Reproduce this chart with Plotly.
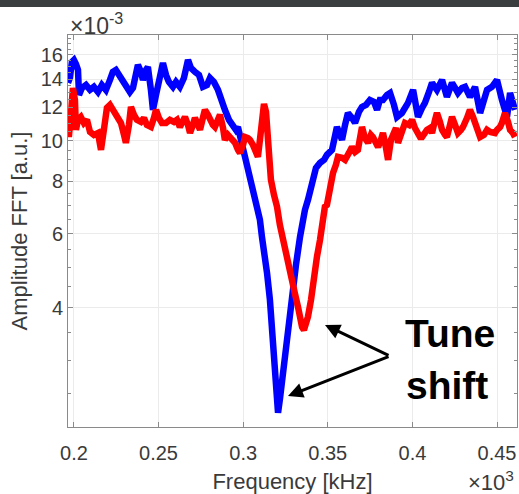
import plotly.graph_objects as go

# Frequency axis values (x 10^3 kHz) and FFT amplitudes (x 10^-3 a.u.)
blue_x = [0.1965, 0.1976, 0.1988, 0.2000, 0.2012, 0.2024, 0.2030, 0.2047, 0.2071, 0.2095,
          0.2118, 0.2142, 0.2165, 0.2189, 0.2213, 0.2230, 0.2248, 0.2266, 0.2284, 0.2307,
          0.2331, 0.2349, 0.2366, 0.2378, 0.2396, 0.2408, 0.2426, 0.2437, 0.2455, 0.2467,
          0.2485, 0.2496, 0.2514, 0.2526, 0.2544, 0.2561, 0.2585, 0.2603, 0.2626, 0.2650,
          0.2674, 0.2691, 0.2715, 0.2739, 0.2762, 0.2786, 0.2804, 0.2827, 0.2851, 0.2869,
          0.2892, 0.2916, 0.2940, 0.2957, 0.2969, 0.2987, 0.3005, 0.3022, 0.3040, 0.3064,
          0.3082, 0.3099, 0.3111, 0.3129, 0.3141, 0.3158, 0.3170, 0.3188, 0.3200, 0.3206,
          0.3217, 0.3235, 0.3259, 0.3277, 0.3294, 0.3312, 0.3336, 0.3353, 0.3365, 0.3383,
          0.3395, 0.3412, 0.3430, 0.3454, 0.3478, 0.3495, 0.3525, 0.3554, 0.3584, 0.3602,
          0.3619, 0.3643, 0.3661, 0.3684, 0.3702, 0.3726, 0.3749, 0.3773, 0.3791, 0.3808,
          0.3826, 0.3850, 0.3868, 0.3891, 0.3909, 0.3938, 0.3956, 0.3974, 0.4004, 0.4033,
          0.4057, 0.4074, 0.4098, 0.4116, 0.4145, 0.4175, 0.4204, 0.4222, 0.4234, 0.4252,
          0.4269, 0.4293, 0.4311, 0.4340, 0.4370, 0.4400, 0.4423, 0.4441, 0.4470, 0.4500,
          0.4529, 0.4559, 0.4577, 0.4606]
blue_y = [13.73, 14.10, 15.40, 15.57, 15.23, 14.74, 12.85, 13.35, 13.57, 13.21,
          13.43, 13.06, 13.57, 13.21, 13.95, 14.58, 14.74, 14.34, 13.80, 13.35,
          13.06, 13.35, 14.34, 15.15, 14.58, 13.95, 14.74, 14.98, 13.21, 11.84,
          12.85, 13.43, 14.74, 15.31, 14.34, 13.80, 13.43, 13.80, 13.43, 14.10,
          15.57, 14.90, 14.58, 14.34, 13.43, 13.57, 14.10, 13.80, 13.21, 12.71,
          11.84, 11.21, 10.78, 10.61, 10.78, 10.04, 9.51, 9.00, 8.07, 7.55,
          6.96, 6.48, 5.90, 5.35, 4.84, 4.18, 3.60, 2.89, 2.48, 2.25,
          2.42, 2.80, 3.36, 4.02, 4.54, 5.06, 5.90, 6.66, 6.84, 7.23,
          7.64, 8.29, 8.61, 8.85, 9.00, 9.25, 9.51, 10.78, 10.04, 10.90,
          11.64, 11.33, 11.02, 11.71, 12.03, 12.17, 12.50, 12.37, 11.84, 12.50,
          12.50, 12.85, 12.99, 12.17, 11.39, 11.64, 11.97, 12.30, 13.21, 11.39,
          11.97, 12.30, 13.06, 13.73, 13.21, 13.95, 12.71, 13.21, 13.73, 13.35,
          12.99, 13.35, 13.43, 12.71, 13.43, 11.64, 12.50, 13.21, 13.43, 13.95,
          12.50, 11.39, 12.99, 11.84]

red_x = [0.1965, 0.1970, 0.1982, 0.1994, 0.2006, 0.2012, 0.2024, 0.2041, 0.2059, 0.2077,
         0.2095, 0.2118, 0.2142, 0.2160, 0.2177, 0.2195, 0.2213, 0.2230, 0.2248, 0.2266,
         0.2278, 0.2296, 0.2307, 0.2325, 0.2337, 0.2355, 0.2372, 0.2396, 0.2414, 0.2431,
         0.2455, 0.2473, 0.2485, 0.2502, 0.2520, 0.2544, 0.2567, 0.2591, 0.2609, 0.2626,
         0.2644, 0.2656, 0.2674, 0.2686, 0.2703, 0.2715, 0.2733, 0.2745, 0.2762, 0.2774,
         0.2792, 0.2804, 0.2821, 0.2833, 0.2851, 0.2863, 0.2881, 0.2892, 0.2910, 0.2922,
         0.2940, 0.2952, 0.2969, 0.2981, 0.2999, 0.3011, 0.3028, 0.3040, 0.3058, 0.3070,
         0.3087, 0.3099, 0.3111, 0.3123, 0.3135, 0.3141, 0.3153, 0.3164, 0.3182, 0.3200,
         0.3217, 0.3235, 0.3247, 0.3265, 0.3277, 0.3294, 0.3306, 0.3324, 0.3336, 0.3348,
         0.3359, 0.3371, 0.3383, 0.3401, 0.3412, 0.3424, 0.3436, 0.3454, 0.3466, 0.3483,
         0.3495, 0.3513, 0.3531, 0.3548, 0.3560, 0.3584, 0.3602, 0.3625, 0.3643, 0.3661,
         0.3678, 0.3702, 0.3720, 0.3738, 0.3755, 0.3767, 0.3785, 0.3797, 0.3814, 0.3826,
         0.3844, 0.3856, 0.3873, 0.3885, 0.3903, 0.3915, 0.3938, 0.3956, 0.3980, 0.3998,
         0.4015, 0.4027, 0.4045, 0.4057, 0.4074, 0.4086, 0.4104, 0.4116, 0.4134, 0.4145,
         0.4163, 0.4175, 0.4193, 0.4204, 0.4222, 0.4234, 0.4252, 0.4269, 0.4287, 0.4299,
         0.4323, 0.4340, 0.4358, 0.4370, 0.4388, 0.4400, 0.4423, 0.4441, 0.4459, 0.4470,
         0.4488, 0.4500, 0.4518, 0.4529, 0.4547, 0.4565, 0.4577, 0.4594, 0.4606]
red_y = [11.02, 10.20, 11.52, 13.35, 12.50, 10.61, 11.21, 11.39, 11.02, 11.21,
         10.49, 10.32, 10.43, 9.51, 10.61, 11.97, 12.17, 11.84, 11.39, 11.21,
         11.02, 10.32, 9.88, 10.90, 12.03, 11.52, 11.21, 11.08, 11.33, 10.90,
         10.78, 11.33, 11.84, 11.33, 11.02, 11.02, 11.21, 11.08, 11.21, 10.78,
         11.21, 11.39, 10.90, 10.43, 10.90, 11.33, 10.90, 10.61, 11.33, 11.84,
         11.52, 11.21, 10.90, 10.78, 11.21, 11.52, 10.72, 10.04, 10.32, 10.20,
         10.04, 9.88, 9.51, 9.35, 9.77, 10.20, 10.14, 10.04, 9.77, 9.51,
         9.15, 10.04, 11.71, 12.23, 11.71, 10.90, 9.00, 8.07, 7.43, 6.96,
         6.30, 5.80, 5.50, 5.06, 4.74, 4.54, 4.32, 4.02, 3.74, 3.60,
         3.54, 3.64, 3.81, 4.18, 4.59, 4.92, 5.29, 5.80, 6.37, 6.96,
         7.03, 7.85, 8.38, 8.76, 9.15, 9.10, 9.00, 9.35, 9.66, 9.40,
         9.51, 10.78, 10.14, 9.88, 10.32, 10.20, 9.77, 9.66, 10.04, 10.43,
         9.61, 9.00, 10.04, 10.43, 10.72, 9.88, 10.43, 11.02, 10.90, 11.21,
         10.72, 10.43, 10.20, 10.20, 10.49, 10.61, 10.72, 10.43, 11.21, 11.64,
         11.08, 10.61, 10.32, 10.20, 10.90, 11.39, 10.90, 10.43, 10.61, 10.78,
         11.33, 11.84, 11.39, 11.02, 10.49, 10.20, 10.32, 10.61, 10.49, 10.43,
         10.43, 10.61, 10.78, 11.02, 11.64, 11.08, 10.61, 10.43, 10.20]

x_ticks = [0.2, 0.25, 0.3, 0.35, 0.4, 0.45]
x_tick_text = ["0.2", "0.25", "0.3", "0.35", "0.4", "0.45"]
y_ticks = [4, 6, 8, 10, 12, 14, 16]
y_tick_text = ["4", "6", "8", "10", "12", "14", "16"]
y_minor = [2.5, 3, 3.5, 4.5, 5, 5.5, 6.5, 7, 7.5, 8.5, 9, 9.5, 10.5, 11, 11.5,
           12.5, 13, 13.5, 14.5, 15, 15.5, 16.5, 17, 17.5]

W, H = 519, 494
L, R, T, B = 68, 2, 35, 67
PW, PH = W - L - R, H - T - B

def px(xp):
    return (xp - L) / PW

def py(yp):
    return (H - B - yp) / PH

FONT = "Liberation Sans, Arial, sans-serif"
TXT = "#3a3a3a"

fig = go.Figure()
fig.add_trace(go.Scatter(x=blue_x, y=blue_y, mode="lines",
                         line=dict(color="#0000ff", width=6.5), showlegend=False))
fig.add_trace(go.Scatter(x=red_x, y=red_y, mode="lines",
                         line=dict(color="#ff0000", width=6.5), showlegend=False))

axis_common = dict(showline=True, linecolor="#8a8a8a", linewidth=1, mirror="allticks",
                   ticks="inside", tickcolor="#8a8a8a", ticklen=5,
                   showgrid=True, gridcolor="#ebebeb", gridwidth=1, zeroline=False,
                   automargin=False,
                   tickfont=dict(family=FONT, size=20, color=TXT))

fig.update_xaxes(range=[0.1965, 0.4618], tickvals=x_ticks, ticktext=x_tick_text,
                 ticklabelstandoff=8,
                 title=dict(text="Frequency [kHz]", font=dict(family=FONT, size=22, color=TXT),
                            standoff=14),
                 **axis_common)
fig.update_yaxes(type="log", range=[0.3181, 1.2516], tickvals=y_ticks, ticktext=y_tick_text,
                 minor=dict(tickvals=y_minor, ticks="inside", ticklen=3, tickcolor="#8a8a8a",
                            showgrid=False),
                 title=dict(text="Amplitude FFT [a.u.]", font=dict(family=FONT, size=22, color=TXT),
                            standoff=7),
                 **axis_common)

annotations = [
    dict(text="\u00d710<sup>-3</sup>", x=px(68), y=py(41), xref="paper", yref="paper",
         xanchor="left", yanchor="bottom", showarrow=False,
         font=dict(family=FONT, size=23, color=TXT)),
    dict(text="\u00d710<sup>3</sup>", x=px(516), y=py(497), xref="paper", yref="paper",
         xanchor="right", yanchor="bottom", showarrow=False,
         font=dict(family=FONT, size=22, color=TXT)),
    dict(text="<b>Tune</b>", x=px(403), y=py(333), xref="paper", yref="paper",
         xanchor="left", yanchor="middle", showarrow=False,
         font=dict(family=FONT, size=39, color="#000000")),
    dict(text="<b>shift</b>", x=px(404), y=py(385), xref="paper", yref="paper",
         xanchor="left", yanchor="middle", showarrow=False,
         font=dict(family=FONT, size=39, color="#000000")),
    dict(text="", x=px(325), y=py(325), xref="paper", yref="paper",
         ax=65, ay=31, axref="pixel", ayref="pixel", showarrow=True,
         arrowhead=2, arrowsize=1, arrowwidth=3, arrowcolor="#000000", standoff=0),
    dict(text="", x=px(288), y=py(396), xref="paper", yref="paper",
         ax=102, ay=-40, axref="pixel", ayref="pixel", showarrow=True,
         arrowhead=2, arrowsize=1, arrowwidth=3, arrowcolor="#000000", standoff=0),
]

shapes = [
    dict(type="rect", xref="paper", yref="paper", x0=px(-5), x1=px(W + 5),
         y0=py(7), y1=py(-5), fillcolor="#3b3e3e", line=dict(width=0), layer="above"),
]

fig.update_layout(width=W, height=H, margin=dict(l=L, r=R, t=T, b=B),
                  paper_bgcolor="white", plot_bgcolor="white",
                  annotations=annotations, shapes=shapes)

fig.write_html("out.html")
